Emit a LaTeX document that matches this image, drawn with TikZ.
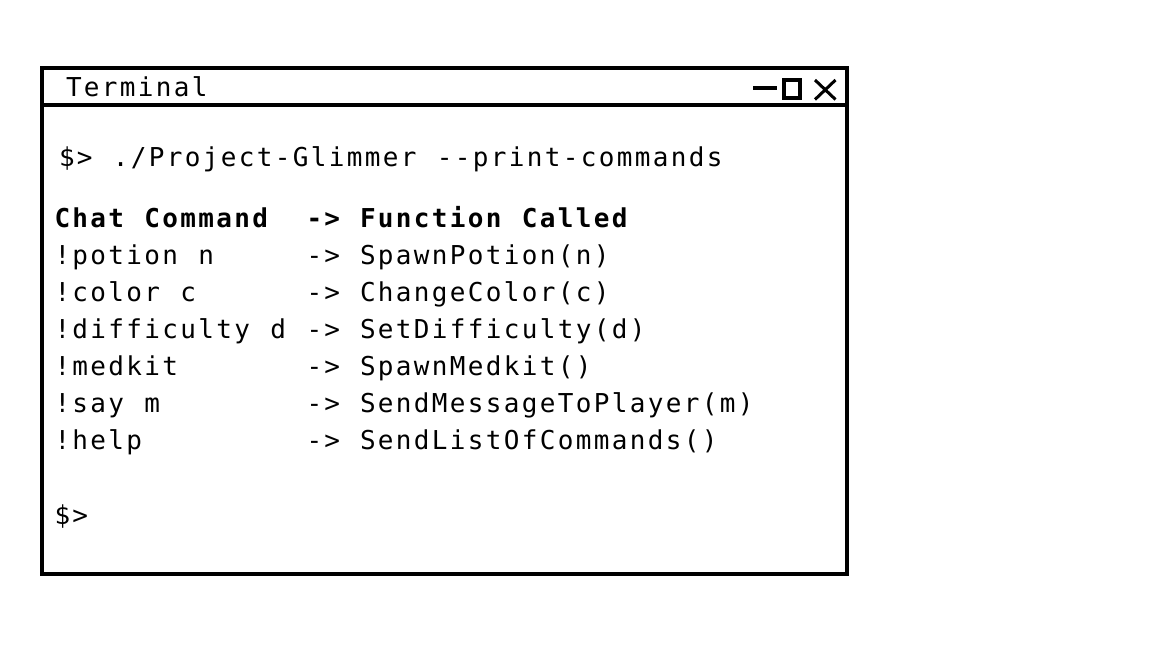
\documentclass[tikz,border=0pt]{standalone}
\usepackage{fontspec}
\newfontfamily\termfont{DejaVu Sans Mono}
\newlength\charw
\setlength\charw{18pt}
\ExplSyntaxOn
\NewDocumentCommand\mono{m}{
  \str_map_inline:nn {#1} { \makebox[\charw][l]{##1} }
}
\ExplSyntaxOff
\begin{document}
\begin{tikzpicture}[x=1pt,y=-1pt,
  frame/.style={line width=4pt},
  btn/.style={line width=4pt},
  txt/.style={anchor=base west,inner sep=0pt,outer sep=0pt,font=\termfont\fontsize{26}{26}\selectfont},
  hdr/.style={txt,font=\termfont\bfseries\fontsize{26}{26}\selectfont}]
\useasboundingbox (0,0) rectangle (1152,648);
% window frame
\draw[frame] (41.5,68) rectangle (846.5,573.5);
\draw[frame] (41.5,105) -- (846.5,105);
% window buttons
\draw[btn] (753,88) -- (777,88);
\draw[line width=3.6pt] (784,80) rectangle (800,98);
\draw[line width=3pt] (815,80) -- (835.5,99.5) (815,99.5) -- (835.5,80);
% title
\node[txt] (title) at (66,96) {\mono{Terminal}};
% command line
\node[txt] (cmd) at (59,166) {\mono{$> ./Project-Glimmer --print-commands}};
% header
\node[hdr] (h1) at (54.5,227) {\mono{Chat Command}};
\node[hdr] (h2) at (306.5,227) {\mono{->}};
\node[hdr] (h3) at (360,227) {\mono{Function Called}};
% rows
\node[txt] (c1) at (54.5,264) {\mono{!potion n}};
\node[txt] (a1) at (306.5,264) {\mono{->}};
\node[txt] (f1) at (360,264) {\mono{SpawnPotion(n)}};
\node[txt] (c2) at (54.5,301) {\mono{!color c}};
\node[txt] (a2) at (306.5,301) {\mono{->}};
\node[txt] (f2) at (360,301) {\mono{ChangeColor(c)}};
\node[txt] (c3) at (54.5,338) {\mono{!difficulty d}};
\node[txt] (a3) at (306.5,338) {\mono{->}};
\node[txt] (f3) at (360,338) {\mono{SetDifficulty(d)}};
\node[txt] (c4) at (54.5,375) {\mono{!medkit}};
\node[txt] (a4) at (306.5,375) {\mono{->}};
\node[txt] (f4) at (360,375) {\mono{SpawnMedkit()}};
\node[txt] (c5) at (54.5,412) {\mono{!say m}};
\node[txt] (a5) at (306.5,412) {\mono{->}};
\node[txt] (f5) at (360,412) {\mono{SendMessageToPlayer(m)}};
\node[txt] (c6) at (54.5,449) {\mono{!help}};
\node[txt] (a6) at (306.5,449) {\mono{->}};
\node[txt] (f6) at (360,449) {\mono{SendListOfCommands()}};
% prompt
\node[txt] (prompt) at (54.5,524) {\mono{$>}};
\end{tikzpicture}
\end{document}
